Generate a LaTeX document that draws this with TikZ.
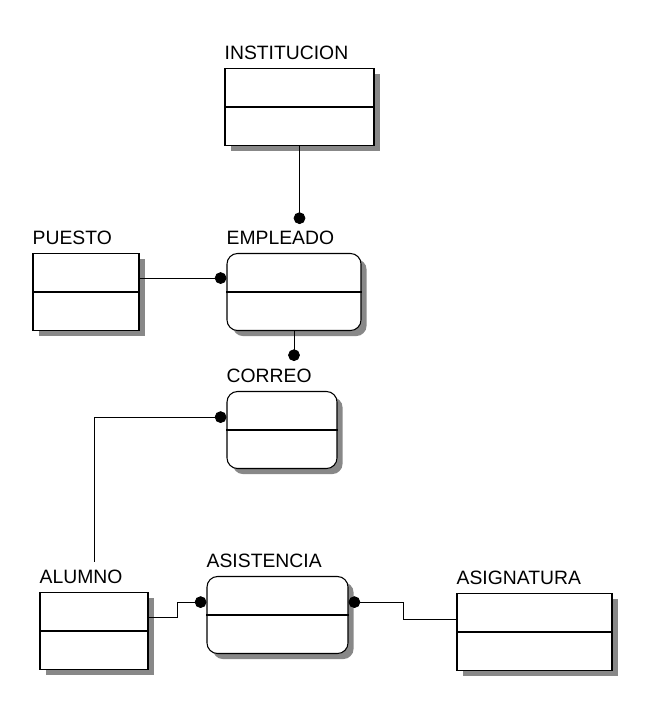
\documentclass[tikz,border=0pt]{standalone}
\usepackage{fontspec}
\setmainfont{Liberation Sans}
\usepackage{xcolor}
\usepackage{tikz}
\usetikzlibrary{arrows.meta,positioning}
\definecolor{Ink}{HTML}{000000}
\definecolor{Shade}{HTML}{888888}

\begin{document}
\begin{tikzpicture}[
  x=0.03cm, y=-0.03cm,
  entity/.style={draw=Ink, line width=0.9pt, fill=white, minimum height=2.31cm, inner sep=0pt,
    preaction={draw=none, fill=Shade, transform canvas={xshift=4.8pt, yshift=-4.8pt}}},
  dep/.style={entity, rounded corners=9pt},
  title/.style={anchor=base west, inner sep=0pt, yshift=7.6pt, font=\fontsize{16.5}{18}\selectfont},
  rel/.style={draw=Ink, line width=0.7pt, -{Circle[length=10pt]}}
]
\useasboundingbox (0,0) rectangle (651,708);
\node[entity, minimum width=4.47cm] (inst) at (299.5,107) {};
\node[entity, minimum width=3.18cm] (puesto) at (86,292) {};
\node[dep, minimum width=4.02cm] (empl) at (294,292) {};
\node[dep, minimum width=3.30cm] (correo) at (282,430) {};
\node[entity, minimum width=3.24cm] (alumno) at (94,631) {};
\node[dep, minimum width=4.23cm] (asist) at (277.5,615) {};
\node[entity, minimum width=4.65cm] (asign) at (534.5,632) {};
\foreach \n in {inst,puesto,empl,correo,alumno,asist,asign}
  \draw[Ink, line width=0.9pt] (\n.west) -- (\n.east);
\node[title] (instT) at (inst.north west) {INSTITUCION};
\node[title] (puestoT) at (puesto.north west) {PUESTO};
\node[title] (emplT) at (empl.north west) {EMPLEADO};
\node[title] (correoT) at (correo.north west) {CORREO};
\node[title] (alumnoT) at (alumno.north west) {ALUMNO};
\node[title] (asistT) at (asist.north west) {ASISTENCIA};
\node[title] (asignT) at (asign.north west) {ASIGNATURA};
% relationships
\path (inst.south) ++(0,78) coordinate (d1);
\draw[rel] (inst.south) -- (d1);
\coordinate (d2) at ([yshift=11.9pt]empl.west);
\draw[rel] (d2 -| puesto.east) -- (d2);
\path (empl.south) ++(0,30) coordinate (d3);
\draw[rel] (empl.south) -- (d3);
\coordinate (d4) at ([yshift=11pt]correo.west);
\path (alumno.north) ++(0,-30) coordinate (a4);
\draw[rel] (a4) |- (d4);
\coordinate (d5) at ([yshift=11pt]asist.west);
\draw[rel] ([yshift=12pt]alumno.east) -- ++(29,0) |- (d5);
\coordinate (d6) at ([yshift=11pt]asist.east);
\draw[rel, {Circle[length=10pt]}-] (d6) -- ++(55,0) |- ([yshift=11pt]asign.west);
\end{tikzpicture}
\end{document}
